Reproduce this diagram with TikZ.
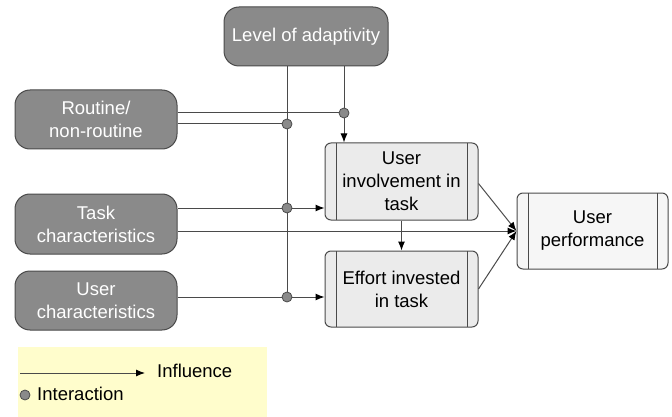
\documentclass[tikz,border=0pt]{standalone}
\usepackage{fontspec}
\setmainfont{Liberation Sans}
\usetikzlibrary{arrows.meta,positioning,calc}
\definecolor{edge}{HTML}{4A4A4A}
\definecolor{boxgray}{HTML}{8A8A8A}
\definecolor{lightbox}{HTML}{EBEBEB}
\definecolor{paperbox}{HTML}{F6F6F6}
\definecolor{legendbg}{HTML}{FFFDCC}

\tikzset{
  factor/.style={draw=edge,fill=boxgray,rounded corners=15pt,text=white,
    minimum width=162pt,minimum height=59pt,align=center,line width=1pt},
  outcome/.style={draw=edge,fill=lightbox,rounded corners=6pt,
    minimum width=153pt,minimum height=77pt,align=center,line width=1pt,
    path picture={
      \draw[edge,line width=1pt]
        ([xshift=11pt]path picture bounding box.north west) -- ([xshift=11pt]path picture bounding box.south west)
        ([xshift=-11pt]path picture bounding box.north east) -- ([xshift=-11pt]path picture bounding box.south east);}},
  dot/.style={circle,draw=edge,fill=boxgray,inner sep=0pt,minimum size=10pt,line width=0.8pt},
  link/.style={draw=edge,line width=1pt},
}

\begin{document}
\begin{tikzpicture}[x=1pt,y=-1pt,>={Latex[length=9pt,width=7pt,color=black]},
  font=\fontsize{18.5}{23}\selectfont]
\useasboundingbox (0,0) rectangle (672,417);

% factors on the left and at the top
\node[factor,minimum width=164pt] (level) at (306,36.5) {Level of adaptivity};
\node[factor] (routine) at (96,119.5) {Routine/\\non-routine};
\node[factor,minimum height=60pt] (task) at (96,224) {Task\\characteristics};
\node[factor] (user) at (96,300.5) {User\\characteristics};

% mediators and outcome
\node[outcome] (involve) at (401.5,181.5) {User\\involvement in\\task};
\node[outcome,minimum height=76pt] (effort) at (401.5,289) {Effort invested\\in task};
\node[outcome,fill=paperbox,minimum width=151pt,minimum height=76pt] (perf) at (592.5,231) {User\\performance};

% interaction points
\coordinate (ia) at (344,113);
\coordinate (ib) at (287,124);
\coordinate (ic) at (287,208);
\coordinate (id) at (287,297);

% connectors
\draw[link] (level.south -| ib) -- (id);
\draw[link,->] (level.south -| ia) -- (involve.north -| ia);
\draw[link] (routine.east |- ia) -- (ia);
\draw[link] (routine.east |- ib) -- (ib);
\draw[link,->] (task.east |- ic) -- (involve.west |- ic);
\draw[link,->] (task.east |- perf.west) -- (perf.west);
\draw[link,->] (user.east |- id) -- (effort.west |- id);
\draw[link,->] (involve.south) -- (effort.north);
\draw[link,->] ([yshift=-2pt]involve.east) -- (perf.west);
\draw[link,->] (effort.east) -- (perf.west);

\foreach \p in {ia,ib,ic,id}
  \node[dot] at (\p) {};

% legend
\fill[legendbg] (18,347) rectangle (267,417);
\coordinate (lga) at (20,373);
\coordinate (lgb) at (145,373);
\draw[link,->] (lga) -- (lgb);
\node[anchor=west,inner sep=0pt] (lgtext) at (157,371) {Influence};
\node[dot] (lgdot) at (25,395) {};
\node[anchor=west,inner sep=0pt] (lgint) at (37,394) {Interaction};
\end{tikzpicture}
\end{document}
